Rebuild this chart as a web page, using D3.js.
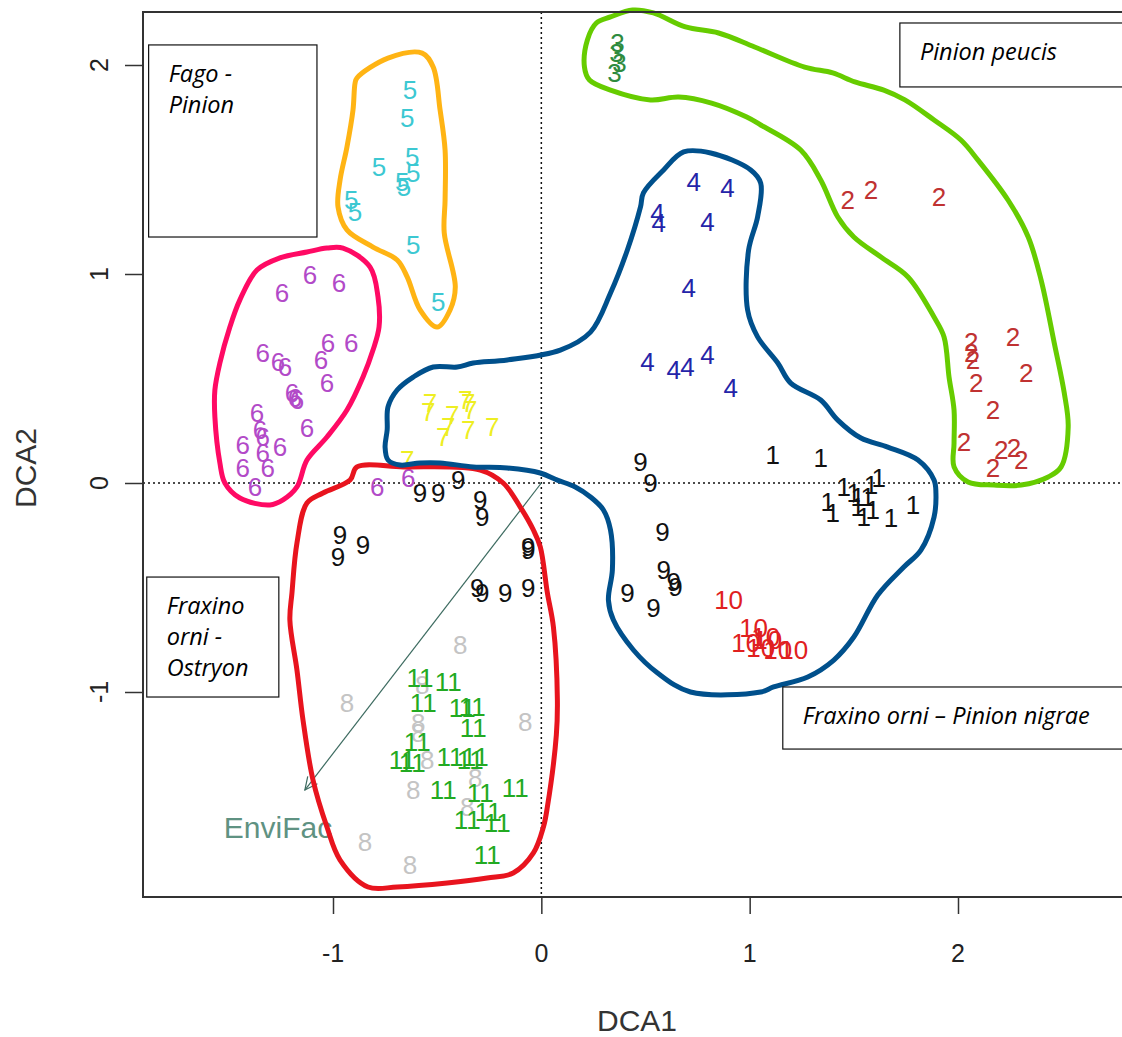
<!DOCTYPE html>
<html>
<head>
<meta charset="utf-8">
<script src="https://cdn.jsdelivr.net/npm/d3@7"></script>
<style>
  body { margin: 0; background: #fff; }
  svg { display: block; }
  .pt { font-family: "Liberation Sans", Arial, sans-serif; font-size: 26px; }
  .tick-label { font-family: "Liberation Sans", Arial, sans-serif; font-size: 25px; fill: #222; }
  .axis-title { font-family: "Liberation Sans", Arial, sans-serif; font-size: 30px; fill: #333; }
  .box-text { font-family: "Open Sans", "Noto Sans", sans-serif; font-style: italic; font-size: 23.5px; fill: #000; }
</style>
</head>
<body>
<svg width="1122" height="1037"></svg>
<script>
// site scores per cluster, [DCA1, DCA2]
var groups = ["1", "2", "3", "4", "5", "6", "7", "8", "9", "10", "11"];
var groupColors = ["#111111", "#c03232", "#2e8b3e", "#2424a8", "#3cc8d2", "#b24ac8",
                   "#eeee22", "#c4c4c4", "#111111", "#e02020", "#22aa22"];

var g1 = [[1.111,0.134],[1.341,0.120],[1.452,-0.019],[1.500,-0.048],[1.582,-0.010],[1.620,0.024],
          [1.375,-0.091],[1.399,-0.144],[1.519,-0.115],[1.548,-0.163],[1.591,-0.129],[1.678,-0.167],
          [1.784,-0.105],[1.519,-0.067],[1.567,-0.067]];
var g2 = [[1.471,1.354],[1.582,1.402],[1.909,1.368],[2.063,0.675],[2.063,0.622],[2.072,0.589],
          [2.087,0.478],[2.264,0.699],[2.327,0.526],[2.168,0.349],[2.029,0.196],[2.207,0.158],
          [2.269,0.167],[2.303,0.110],[2.168,0.072]];
var g3 = [[0.365,2.105],[0.361,2.057],[0.375,2.010],[0.351,1.962]];
var g4 = [[0.731,1.440],[0.894,1.411],[0.558,1.292],[0.563,1.244],[0.798,1.249],[0.707,0.933],
          [0.510,0.579],[0.635,0.541],[0.702,0.555],[0.798,0.612],[0.909,0.455]];
var g5 = [[-0.630,1.880],[-0.644,1.746],[-0.779,1.512],[-0.620,1.560],[-0.615,1.483],[-0.668,1.440],
          [-0.659,1.416],[-0.913,1.354],[-0.894,1.297],[-0.615,1.139],[-0.495,0.866]];
var g6 = [[-1.245,0.909],[-1.111,0.995],[-0.971,0.957],[-1.337,0.622],[-1.264,0.579],[-1.231,0.555],
          [-1.024,0.670],[-0.913,0.670],[-1.058,0.589],[-1.029,0.478],[-1.197,0.431],[-1.183,0.407],
          [-1.173,0.397],[-1.365,0.335],[-1.351,0.254],[-1.337,0.220],[-1.433,0.182],[-1.255,0.172],
          [-1.337,0.144],[-1.125,0.263],[-1.433,0.072],[-1.313,0.072],[-1.375,-0.019],[-0.788,-0.019],
          [-0.639,0.024]];
var g7 = [[-0.534,0.383],[-0.543,0.340],[-0.428,0.325],[-0.365,0.397],[-0.351,0.383],[-0.341,0.349],
          [-0.447,0.268],[-0.351,0.254],[-0.236,0.268],[-0.471,0.220],[-0.644,0.110]];
var g8 = [[-0.389,-0.775],[-0.933,-1.053],[-0.572,-0.967],[-0.077,-1.144],[-0.591,-1.148],[-0.591,-1.196],
          [-0.548,-1.325],[-0.615,-1.469],[-0.317,-1.411],[-0.356,-1.550],[-0.846,-1.718],[-0.630,-1.828]];
var g9 = [[-0.582,-0.048],[-0.495,-0.048],[-0.399,0.014],[-0.293,-0.081],[-0.284,-0.163],[-0.966,-0.249],
          [-0.976,-0.354],[-0.856,-0.297],[-0.063,-0.306],[-0.063,-0.321],[-0.308,-0.502],[-0.284,-0.526],
          [-0.173,-0.526],[-0.063,-0.502],[0.476,0.100],[0.524,0.000],[0.582,-0.234],[0.587,-0.416],
          [0.635,-0.474],[0.644,-0.498],[0.413,-0.526],[0.538,-0.598]];
var g10 = [[0.899,-0.560],[1.019,-0.694],[1.077,-0.737],[0.981,-0.766],[1.087,-0.751],[1.053,-0.789],
           [1.135,-0.799],[1.212,-0.799]];
var g11 = [[-0.582,-0.933],[-0.447,-0.952],[-0.567,-1.053],[-0.380,-1.077],[-0.332,-1.072],[-0.596,-1.239],
           [-0.327,-1.172],[-0.668,-1.325],[-0.438,-1.311],[-0.317,-1.311],[-0.471,-1.469],[-0.293,-1.483],
           [-0.125,-1.459],[-0.356,-1.612],[-0.212,-1.627],[-0.255,-1.574],[-0.260,-1.780],[-0.620,-1.340],
           [-0.341,-1.325]];
var sites = [g1, g2, g3, g4, g5, g6, g7, g8, g9, g10, g11];

// fitted environmental vector
var envName = "EnviFac";
var envVector = [-1.135, -1.469];
var envLabelAt = [-1.264, -1.650];

var xTicks = [-1, 0, 1, 2];
var yTicks = [-1, 0, 1, 2];

// hand drawn outlines, in DCA units
var hullOrange = [[-0.885,1.938],[-0.736,2.033],[-0.572,2.057],[-0.519,1.990],[-0.486,1.785],[-0.462,1.593],
  [-0.462,1.354],[-0.466,1.196],[-0.413,0.938],[-0.438,0.828],[-0.500,0.746],[-0.582,0.828],[-0.644,0.986],
  [-0.692,1.067],[-0.808,1.129],[-0.933,1.211],[-0.976,1.321],[-0.966,1.450],[-0.933,1.608],[-0.904,1.785],
  [-0.894,1.914]];
var hullPink = [[-0.952,1.124],[-0.822,1.033],[-0.784,0.890],[-0.779,0.746],[-0.808,0.636],[-0.856,0.507],
  [-0.933,0.349],[-1.029,0.220],[-1.125,0.110],[-1.173,-0.019],[-1.240,-0.081],[-1.303,-0.105],[-1.447,-0.072],
  [-1.519,0.000],[-1.543,0.096],[-1.567,0.316],[-1.567,0.445],[-1.543,0.574],[-1.495,0.746],[-1.447,0.876],
  [-1.365,1.019],[-1.255,1.077],[-1.125,1.105],[-1.029,1.124]];
var hullRed = [[-0.885,0.077],[-0.663,0.077],[-0.293,0.062],[-0.183,0.000],[-0.101,-0.115],[-0.038,-0.225],
  [-0.005,-0.306],[0.029,-0.526],[0.058,-0.689],[0.077,-1.038],[0.072,-1.206],[0.029,-1.550],[0.010,-1.646],
  [-0.038,-1.770],[-0.135,-1.866],[-0.260,-1.890],[-0.452,-1.914],[-0.692,-1.933],[-0.832,-1.933],
  [-0.966,-1.804],[-1.029,-1.646],[-1.096,-1.421],[-1.144,-1.134],[-1.173,-0.895],[-1.207,-0.656],
  [-1.197,-0.526],[-1.173,-0.287],[-1.125,-0.096],[-1.048,-0.048],[-0.918,0.014]];
var hullBlue = [[0.683,1.584],[0.813,1.579],[1.005,1.498],[1.053,1.435],[1.038,1.273],[0.995,1.115],
  [0.990,0.828],[1.038,0.699],[1.135,0.574],[1.197,0.478],[1.341,0.397],[1.423,0.301],[1.534,0.215],
  [1.663,0.172],[1.808,0.110],[1.885,0.014],[1.894,-0.048],[1.885,-0.163],[1.822,-0.321],[1.740,-0.402],
  [1.615,-0.536],[1.500,-0.737],[1.404,-0.847],[1.279,-0.928],[1.115,-0.976],[1.053,-1.000],[0.716,-1.000],
  [0.558,-0.909],[0.442,-0.799],[0.346,-0.656],[0.322,-0.560],[0.341,-0.416],[0.332,-0.225],[0.298,-0.129],
  [0.236,-0.067],[0.163,-0.019],[0.077,0.014],[-0.005,0.048],[-0.163,0.072],[-0.327,0.077],[-0.486,0.096],
  [-0.582,0.096],[-0.678,0.086],[-0.736,0.110],[-0.750,0.172],[-0.740,0.254],[-0.736,0.364],[-0.692,0.445],
  [-0.615,0.507],[-0.519,0.555],[-0.404,0.555],[-0.327,0.574],[-0.163,0.589],[0.091,0.636],[0.236,0.722],
  [0.332,0.909],[0.413,1.115],[0.476,1.321],[0.490,1.388],[0.587,1.498]];
var hullGreen = [[0.332,2.230],[0.438,2.263],[0.538,2.249],[0.692,2.182],[0.851,2.153],[1.024,2.086],
  [1.264,1.990],[1.399,1.962],[1.505,1.919],[1.644,1.880],[1.745,1.833],[1.885,1.737],[2.014,1.641],
  [2.096,1.545],[2.240,1.354],[2.337,1.177],[2.399,0.971],[2.462,0.670],[2.510,0.431],[2.529,0.268],
  [2.495,0.077],[2.433,0.029],[2.303,-0.010],[2.173,-0.010],[2.048,0.005],[1.981,0.077],[1.981,0.191],
  [1.981,0.349],[1.957,0.507],[1.933,0.699],[1.885,0.794],[1.760,0.986],[1.630,1.081],[1.500,1.177],
  [1.423,1.273],[1.341,1.450],[1.245,1.593],[1.053,1.713],[0.986,1.751],[0.817,1.818],[0.659,1.847],
  [0.524,1.833],[0.332,1.880],[0.231,1.928],[0.207,1.990],[0.221,2.120],[0.264,2.201]];
var hulls = [hullOrange, hullPink, hullRed, hullBlue, hullGreen];
var hullColors = ["#ffb414", "#ff0a64", "#e8141e", "#00508c", "#66cc00"];

// alliance name boxes: [left, top, right, bottom] in DCA units, and text lines
var boxLines = [["Fago -", "Pinion"], ["Pinion peucis"], ["Fraxino", "orni -", "Ostryon"],
                ["Fraxino orni \u2013 Pinion nigrae"]];
var boxExtents = [[-1.885, 2.096, -1.077, 1.177], [1.721, 2.201, 2.800, 1.895],
                  [-1.894, -0.450, -1.260, -1.024], [1.159, -0.976, 2.800, -1.273]];

var svg = d3.select("svg"),
    width = +svg.attr("width"),
    height = +svg.attr("height");

var plotLeft = 143, plotRight = 1130, plotTop = 12, plotBottom = 897;

var x = d3.scaleLinear().domain([-1, 2]).range([333, 958]);
var y = d3.scaleLinear().domain([-1, 2]).range([692, 65]);

// zero lines
svg.append("line")
    .attr("x1", plotLeft).attr("x2", plotRight)
    .attr("y1", y(0)).attr("y2", y(0))
    .attr("stroke", "#111").attr("stroke-width", 1.5).attr("stroke-dasharray", "2,3");
svg.append("line")
    .attr("x1", x(0)).attr("x2", x(0))
    .attr("y1", plotTop).attr("y2", plotBottom)
    .attr("stroke", "#111").attr("stroke-width", 1.5).attr("stroke-dasharray", "2,3");

// environmental arrow
var ax = x(envVector[0]), ay = y(envVector[1]),
    ang = Math.atan2(ay - y(0), ax - x(0));
svg.append("line")
    .attr("x1", x(0)).attr("y1", y(0))
    .attr("x2", ax).attr("y2", ay)
    .attr("stroke", "#3d6b60").attr("stroke-width", 1.2);
svg.append("path")
    .attr("d", d3.line()([
      [ax - 14 * Math.cos(ang - 0.45), ay - 14 * Math.sin(ang - 0.45)],
      [ax, ay],
      [ax - 14 * Math.cos(ang + 0.45), ay - 14 * Math.sin(ang + 0.45)]
    ]))
    .attr("fill", "none").attr("stroke", "#3d6b60").attr("stroke-width", 1.2);
svg.append("text")
    .attr("x", x(envLabelAt[0])).attr("y", y(envLabelAt[1]))
    .attr("text-anchor", "middle").attr("dominant-baseline", "central")
    .style("font-family", "'Liberation Sans', Arial, sans-serif")
    .style("font-size", "30px")
    .attr("fill", "#5f9282")
    .text(envName);

// site labels
sites.forEach(function(pts, i) {
  svg.selectAll(".g" + i)
    .data(pts)
    .enter().append("text")
      .attr("class", "pt g" + i)
      .attr("x", function(d) { return x(d[0]); })
      .attr("y", function(d) { return y(d[1]); })
      .attr("text-anchor", "middle")
      .attr("dominant-baseline", "central")
      .attr("fill", groupColors[i])
      .text(groups[i]);
});

// hand drawn hulls
var hullLine = d3.line()
    .x(function(d) { return x(d[0]); })
    .y(function(d) { return y(d[1]); })
    .curve(d3.curveCatmullRomClosed.alpha(0.5));

svg.selectAll(".hull")
  .data(hulls)
  .enter().append("path")
    .attr("class", "hull")
    .attr("d", hullLine)
    .attr("fill", "none")
    .attr("stroke", function(d, i) { return hullColors[i]; })
    .attr("stroke-width", 5)
    .attr("stroke-linejoin", "round");

// plot frame
svg.append("rect")
    .attr("x", plotLeft).attr("y", plotTop)
    .attr("width", plotRight - plotLeft).attr("height", plotBottom - plotTop)
    .attr("fill", "none").attr("stroke", "#333").attr("stroke-width", 2);

// axes
var xAxis = svg.append("g")
    .attr("transform", "translate(0," + plotBottom + ")")
    .call(d3.axisBottom(x).tickValues(xTicks).tickSize(17).tickFormat(""));
xAxis.select(".domain").remove();
xAxis.selectAll("line").attr("stroke", "#333").attr("stroke-width", 1.5);

svg.selectAll(".xlab")
  .data(xTicks)
  .enter().append("text")
    .attr("class", "tick-label")
    .attr("x", function(d) { return x(d); })
    .attr("y", 953)
    .attr("text-anchor", "middle").attr("dominant-baseline", "central")
    .text(function(d) { return d; });

var yAxis = svg.append("g")
    .attr("transform", "translate(" + plotLeft + ",0)")
    .call(d3.axisLeft(y).tickValues(yTicks).tickSize(18).tickFormat(""));
yAxis.select(".domain").remove();
yAxis.selectAll("line").attr("stroke", "#333").attr("stroke-width", 1.5);

svg.selectAll(".ylab")
  .data(yTicks)
  .enter().append("text")
    .attr("class", "tick-label")
    .attr("transform", function(d) { return "translate(99," + y(d) + ") rotate(-90)"; })
    .attr("text-anchor", "middle").attr("dominant-baseline", "central")
    .text(function(d) { return d; });

svg.append("text")
    .attr("class", "axis-title")
    .attr("x", 637).attr("y", 1020)
    .attr("text-anchor", "middle").attr("dominant-baseline", "central")
    .text("DCA1");
svg.append("text")
    .attr("class", "axis-title")
    .attr("transform", "translate(25,468) rotate(-90)")
    .attr("text-anchor", "middle").attr("dominant-baseline", "central")
    .text("DCA2");

// name boxes
boxExtents.forEach(function(b, i) {
  var bx = x(b[0]), by = y(b[1]);
  svg.append("rect")
      .attr("x", bx).attr("y", by)
      .attr("width", x(b[2]) - bx).attr("height", y(b[3]) - by)
      .attr("fill", "#fff").attr("stroke", "#111").attr("stroke-width", 1.2);
  svg.append("text")
      .attr("class", "box-text")
      .attr("x", bx + 20).attr("y", by + 37)
      .selectAll("tspan")
      .data(boxLines[i])
      .enter().append("tspan")
        .attr("x", bx + 20)
        .attr("dy", function(d, j) { return j ? 31 : 0; })
        .text(function(d) { return d; });
});
</script>
</body>
</html>
